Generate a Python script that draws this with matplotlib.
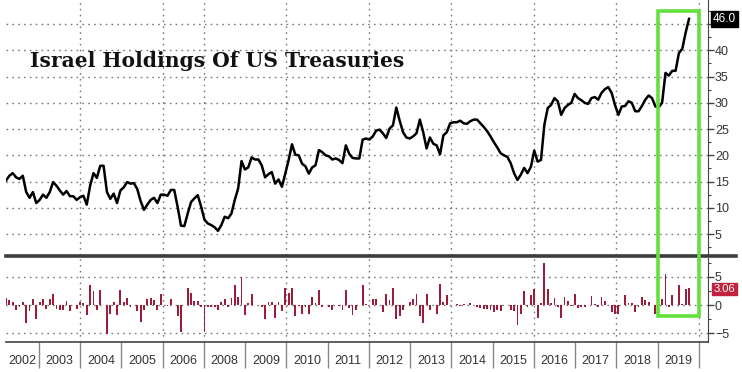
import numpy as np
import matplotlib
matplotlib.use('Agg')
import matplotlib.pyplot as plt
from matplotlib.lines import Line2D
from matplotlib.patches import Rectangle
from matplotlib.ticker import MultipleLocator

# year labels as printed on the chart (2007 is skipped there)
years = ['2002', '2003', '2004', '2005', '2006', '2008', '2009', '2010', '2011',
         '2012', '2013', '2014', '2015', '2016', '2017', '2018', '2019']

# monthly holdings, $bn
holdings = [
    15.2, 16.1, 16.6, 15.8, 15.5, 16.1, 13.0, 11.9, 13.0, 10.9,
    11.5, 12.5, 11.9, 13.0, 14.9, 14.2, 13.3, 12.5, 13.2, 12.2,
    12.2, 11.5, 12.0, 12.3, 10.6, 14.2, 16.6, 15.7, 18.0, 18.0,
    13.0, 11.7, 12.7, 10.9, 13.3, 13.9, 14.9, 14.6, 14.7, 13.6,
    11.3, 9.6, 10.6, 11.5, 11.9, 10.9, 12.5, 12.5, 12.3, 13.4,
    13.4,
    10.2, 6.6, 6.5, 8.9, 11.1, 11.8, 12.4, 10.2, 7.7, 7.0,
    6.7, 6.3, 5.6, 6.7, 8.3, 8.0, 8.9, 11.5, 13.7, 18.9,
    17.3, 17.7, 19.6, 19.2, 19.2, 18.1, 15.8, 16.4, 16.8, 14.6,
    15.4, 14.0, 16.5, 19.1, 22.1, 20.1, 20.0, 18.4, 17.9, 16.5,
    17.7, 18.1, 21.0, 20.6, 20.0, 19.8, 19.2, 19.4, 19.1, 18.5,
    21.9, 20.3, 19.5, 19.4, 19.4, 23.0, 23.2, 23.0, 23.6, 24.7,
    24.9, 24.2, 23.3, 25.1, 25.7, 29.1, 26.6, 24.4, 23.4, 23.2,
    23.6, 24.2, 26.8, 24.4, 21.3, 23.4, 22.2, 21.9, 20.2, 23.8,
    24.4, 26.1, 26.3, 26.3, 26.6, 26.1, 26.0, 26.5, 26.8, 26.8,
    26.1, 25.4, 24.6, 23.6, 22.5, 21.5, 20.4, 20.0, 19.7,
    18.5, 16.6, 15.3, 16.3, 17.6, 16.6, 17.8, 20.9, 18.8, 19.1,
    25.8, 29.0, 29.6, 30.9, 30.3, 27.7, 29.0, 29.6, 30.0, 31.7,
    30.9, 30.5, 30.0, 29.8, 30.9, 31.1, 30.6, 31.9, 32.6, 33.0,
    31.9, 29.6, 27.7, 29.3, 29.4, 30.3, 30.0, 28.4, 28.4, 29.4,
    30.6, 31.4, 30.9, 29.3, 29.2, 30.0, 35.7, 35.2, 36.1, 36.1,
    39.5, 40.3, 43.4, 46.0,
]

# monthly change, $bn
changes = [
    1.2, 0.9, 0.5, -0.8, -0.3, 0.6, -3.1, -1.1, 1.1, -2.4,
    0.6, 1.0, -0.6, 1.1, 1.9, -0.7, -0.9, -0.8, 0.7, -1.0,
    0.0, -0.7, 0.5, 0.3, -1.7, 3.6, 2.4, -0.9, 2.6, 0.0,
    -5.1, -1.5, 0.6, -1.8, 2.6, 0.6, 1.2, -0.3, 0.1, -1.1,
    -2.9, -0.9, 1.0, 1.2, 0.9, -0.9, 1.9, 0.0, -0.2, 1.1,
    0.0,
    -2.0, -4.8, 0.0, 3.0, 2.2, 0.7, 0.8, -0.4, -4.7, -0.4,
    -0.3, -0.3, -0.8, 0.5, 1.0, -0.3, 1.2, 3.6, 1.4, 5.0,
    -1.8, 0.3, 2.0, 0.0, 0.0, -0.3, -2.4, 0.6, 0.6, -2.3,
    0.6, -1.0, 3.0, 2.2, 3.0, -2.0, -0.2, -1.6, -0.3, -1.5,
    1.4, 0.3, 2.6, -0.3, 0.0, -0.4, -0.8, 0.1, -0.1, -0.8,
    2.6, -0.5, -1.7, -0.9, 0.0, 3.5, 0.2, 0.0, 1.0, 1.1,
    0.1, -1.3, 1.9, 0.9, 3.1, -2.4, -2.0, -0.8, 0.0, 0.5,
    1.0, 2.0, -2.0, -3.2, 2.0, -0.8, 0.0, -1.6, 3.7, 0.5,
    1.7, 0.0, 0.1, 0.2, -0.2, 0.2, 0.1, 0.3, 0.1, -0.3,
    -0.5, -0.7, -0.6, -0.9, -1.2, -0.8, -1.0, 0.0, 0.0,
    -0.9, -1.0, -3.5, -1.5, 2.4, -0.3, 1.8, 2.9, -2.3, 0.3,
    7.5, 2.8, 0.4, 1.3, -0.4, -2.2, 1.4, 0.8, -0.2, 2.0,
    -0.5, -0.4, -0.3, 0.1, 1.6, 0.2, -0.4, 1.5, 0.8, 0.1,
    -1.3, -1.5, -1.6, 0.1, 1.7, 0.4, 0.3, -1.3, -0.3, 1.4,
    0.9, 0.5, 0.1, -1.5, 0.2, 1.1, 5.5, -0.4, 1.7, 0.1,
    3.5, 0.2, 2.8, 3.06,
]

# x runs in "year slots": slot i spans [i, i+1]
x_min, x_max = 0.2, 17.22
first_x, last_x = 0.2, 16.76
line_x = np.linspace(first_x, last_x, len(holdings))
bar_x = np.linspace(first_x, last_x, len(changes))
grid_x = [2, 4, 5, 7, 9, 11, 13, 15, 17]

W, H = 742, 372
fig = plt.figure(figsize=(W / 100, H / 100), dpi=100)
ax = fig.add_axes([6 / W, 117 / H, 702 / W, 255 / H])
ax2 = fig.add_axes([6 / W, 30 / H, 702 / W, 84 / H])

grid_kw = dict(color='#7a7a7a', linewidth=1.0, linestyle=(0, (1.2, 3.0)), zorder=1)
tick_family = ['Liberation Sans', 'DejaVu Sans']
tick_size = 9

# top panel: holdings line
ax.plot(line_x, holdings, color='black', lw=1.8, zorder=3)
ax.set_xlim(x_min, x_max)
ax.set_ylim(1.0, 49.6)
ax.yaxis.tick_right()
ax.set_yticks(range(5, 50, 5))
ax.set_yticklabels([str(v) if v < 45 else '' for v in range(5, 50, 5)])
ax.yaxis.set_minor_locator(MultipleLocator(2.5))
ax.set_xticks([])
for v in range(5, 50, 5):
    ax.axhline(v, **grid_kw)
for g in grid_x:
    ax.axvline(g, **grid_kw)
for s in ['left', 'top', 'bottom']:
    ax.spines[s].set_visible(False)
ax.spines['right'].set_color('#444444')
ax.tick_params(axis='y', which='major', length=4, width=1, color='#444444', pad=1, labelcolor='#333333')
ax.tick_params(axis='y', which='minor', length=2, width=0.8, color='#444444')
for t in ax.get_yticklabels():
    t.set_fontfamily(tick_family)
    t.set_fontsize(tick_size)

# bottom panel: monthly change bars
ax2.bar(bar_x, changes, width=0.045, color='#9a1d3c', zorder=3)
ax2.set_xlim(x_min, x_max)
ax2.set_ylim(-6.5, 8.3)
ax2.yaxis.tick_right()
ax2.set_yticks([-5, 0, 5])
ax2.yaxis.set_minor_locator(MultipleLocator(2.5))
for v in [-5, 0, 5]:
    ax2.axhline(v, **grid_kw)
for g in grid_x:
    ax2.axvline(g, **grid_kw)
for s in ['left', 'top']:
    ax2.spines[s].set_visible(False)
ax2.spines['right'].set_color('#444444')
ax2.spines['bottom'].set_color('#444444')
ax2.spines['bottom'].set_linewidth(1.2)
ax2.set_xticks(range(1, 18))
ax2.set_xticklabels([])
centers = [(max(i, x_min) + i + 1) / 2 for i in range(len(years))]
ax2.set_xticks(centers, minor=True)
ax2.set_xticklabels(years, minor=True)
ax2.tick_params(axis='x', which='major', length=19, width=1, color='#888888')
ax2.tick_params(axis='x', which='minor', length=0, pad=9, labelcolor='#333333')
ax2.tick_params(axis='y', which='major', length=4, width=1, color='#444444', pad=1, labelcolor='#333333')
ax2.tick_params(axis='y', which='minor', length=2, width=0.8, color='#444444')
for t in ax2.get_yticklabels() + ax2.get_xticklabels(minor=True):
    t.set_fontfamily(tick_family)
    t.set_fontsize(tick_size)

# last value tags
ax.annotate(f'{holdings[-1]:.1f}', xy=(1, holdings[-1]), xycoords=('axes fraction', 'data'),
            xytext=(3.5, 0), textcoords='offset points', ha='left', va='center',
            color='white', fontsize=8.5, family=tick_family, zorder=5,
            bbox=dict(boxstyle='square,pad=0.15', fc='black', ec='black'))
ax2.annotate(f'{changes[-1]:.2f}', xy=(1, changes[-1]), xycoords=('axes fraction', 'data'),
             xytext=(4, -1), textcoords='offset points', ha='left', va='center',
             color='white', fontsize=8, family=tick_family, zorder=5,
             bbox=dict(boxstyle='square,pad=0.12', fc='#c1233e', ec='#c1233e'))

# thick separator between the panels
fig.add_artist(Line2D([6 / W, 736 / W], [1 - 256 / H] * 2, transform=fig.transFigure,
                      color='#3c3c3c', lw=2.6))

# green highlight box around 2019
inv = fig.transFigure.inverted()
bx0, by1 = inv.transform(ax.transData.transform((16.0, 47.5)))
bx1, _ = inv.transform(ax.transData.transform((17.0, 47.5)))
_, by0 = inv.transform(ax2.transData.transform((16.0, -1.95)))
fig.add_artist(Rectangle((bx0, by0), bx1 - bx0, by1 - by0, transform=fig.transFigure,
                         fill=False, ec='#62e03c', lw=2.6, zorder=10))

fig.text(30 / W, 1 - 67 / H, 'Israel Holdings Of US Treasuries', ha='left', va='baseline',
         fontsize=14.6, fontweight='bold', family='DejaVu Serif', color='#111111')

fig.savefig('out.png', dpi=100, facecolor='white')
